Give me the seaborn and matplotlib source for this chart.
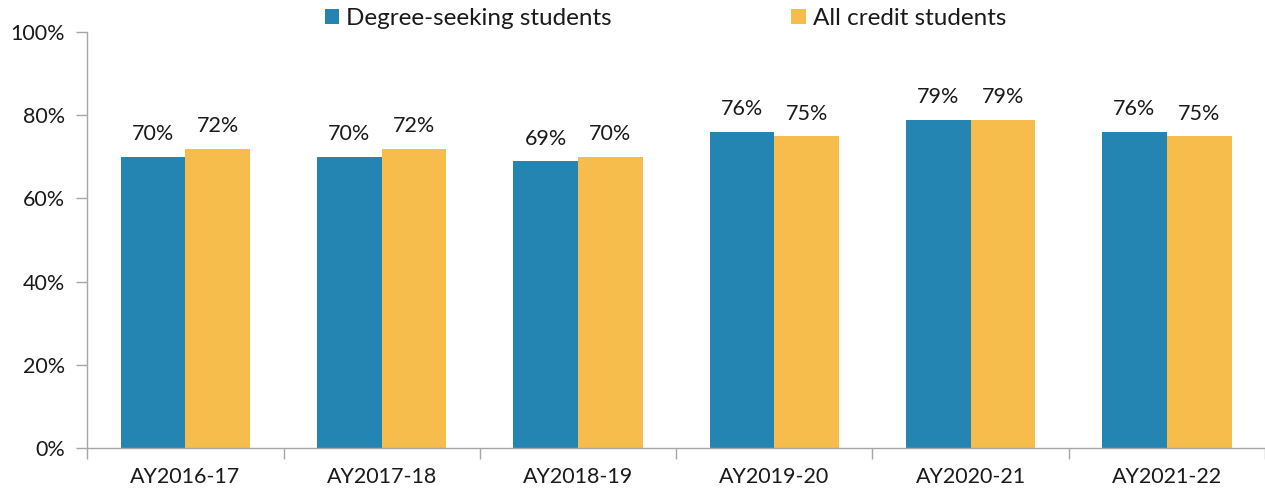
import matplotlib
matplotlib.use("Agg")
import matplotlib.pyplot as plt
import seaborn as sns
import pandas as pd

years = ["AY2016-17", "AY2017-18", "AY2018-19", "AY2019-20", "AY2020-21", "AY2021-22"]
degree_seeking = [70, 70, 69, 76, 79, 76]
all_credit = [72, 72, 70, 75, 79, 75]
series_names = ["Degree-seeking students", "All credit students"]
colors = ["#2585b2", "#f6bd4d"]

df = pd.DataFrame({
    "year": years * 2,
    "value": degree_seeking + all_credit,
    "series": [series_names[0]] * len(years) + [series_names[1]] * len(years),
})

sns.set_theme(style="white")
plt.rcParams["font.family"] = ["Lato", "DejaVu Sans"]

fig = plt.figure(figsize=(12.65, 4.96), dpi=100)
ax = fig.add_axes([0.069, 0.097, 0.931, 0.838])

sns.barplot(data=df, x="year", y="value", hue="series", palette=colors,
            width=0.66, saturation=1, linewidth=0, ax=ax, legend=True)

for container in ax.containers:
    for bar in container:
        h = bar.get_height()
        ax.annotate(f"{h:.0f}%", (bar.get_x() + bar.get_width() / 2, h),
                    xytext=(0, 9), textcoords="offset points",
                    ha="center", va="bottom", fontsize=15.5, color="#1a1a1a")

ax.set_ylim(0, 100)
ax.set_xlim(-0.5, len(years) - 0.5)
ax.set_yticks(range(0, 101, 20))
ax.set_yticklabels([f"{v}%" for v in range(0, 101, 20)], fontsize=15.5, color="#1a1a1a")
ax.set_xticks(range(len(years)))
ax.set_xticklabels(years, fontsize=15.5, color="#1a1a1a")
ax.set_xlabel("")
ax.set_ylabel("")

# Category separators on the bottom axis
ax.set_xticks([i - 0.5 for i in range(len(years) + 1)], minor=True)
ax.tick_params(axis="x", which="major", length=0, pad=14)
ax.tick_params(axis="x", which="minor", length=8, width=1, color="#a6a6a6", bottom=True)
ax.tick_params(axis="y", length=8, width=1, color="#a6a6a6", left=True, pad=8)

for side in ["top", "right"]:
    ax.spines[side].set_visible(False)
for side in ["left", "bottom"]:
    ax.spines[side].set_color("#a6a6a6")
    ax.spines[side].set_linewidth(1)

handles, labels = ax.get_legend_handles_labels()
ax.get_legend().remove()
fig.legend(handles, labels, loc="center", bbox_to_anchor=(0.526, 0.963), ncol=2,
           frameon=False, fontsize=17.5, handlelength=0.58, handleheight=0.58,
           handletextpad=0.3, columnspacing=7.4, labelcolor="#1a1a1a")

fig.savefig("out.png", dpi=100)
